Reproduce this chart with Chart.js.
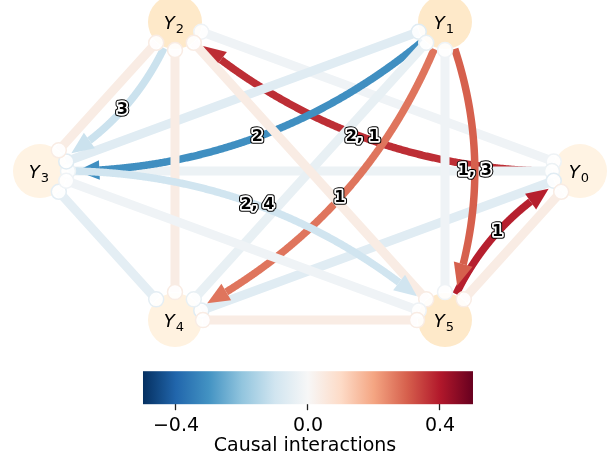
<!DOCTYPE html>
<html>
<head>
<meta charset="utf-8">
<script src="https://cdn.jsdelivr.net/npm/chart.js@4.4.1/dist/chart.umd.min.js"></script>
<style>
  html, body { margin: 0; padding: 0; background: #fff; }
</style>
</head>
<body>
<canvas id="graph" width="610" height="461"></canvas>
<script>
// Nodes (Y_0 ... Y_5) and their auto-dependency strength (node colour)
const nodeNames = ['0', '1', '2', '3', '4', '5'];
const nodeAuto = [0.03, 0.12, 0.12, 0.03, 0.04, 0.12];

// Contemporaneous links (o-o), undirected
const linkFrom = [0, 0, 0, 0, 1, 1, 1, 2, 2, 2, 3, 3, 4];
const linkTo   = [2, 3, 4, 5, 3, 4, 5, 3, 4, 5, 4, 5, 5];
const linkVal  = [-0.02, -0.03, -0.06, 0.04, -0.06, -0.04, -0.02, 0.04, 0.04, 0.04, -0.05, -0.02, 0.04];

// Lagged links (-->), with their lag labels
const lagFrom = [0, 1, 1, 1, 2, 3, 5];
const lagTo   = [2, 3, 4, 5, 3, 5, 0];
const lagVal  = [0.37, -0.31, 0.27, 0.30, -0.11, -0.10, 0.39];
const lagText = ['2, 1', '2', '1', '1, 3', '3', '2, 4', '1'];

// Colorbar
const cbMin = -0.5, cbMax = 0.5;
const cbTicks = [-0.4, 0.0, 0.4];
const cbTitle = 'Causal interactions';

const RDBU_R = ['#053061', '#2166ac', '#4393c3', '#92c5de', '#d1e5f0', '#f7f7f7',
                '#fddbc7', '#f4a582', '#d6604d', '#b2182b', '#67001f'];
const ORRD = ['#fff7ec', '#fee8c8', '#fdd49e', '#fdbb84', '#fc8d59', '#ef6548',
              '#d7301f', '#b30000', '#7f0000'];

function hexRgb(h) {
  return [parseInt(h.slice(1, 3), 16), parseInt(h.slice(3, 5), 16), parseInt(h.slice(5, 7), 16)];
}
function cmap(stops, t) {
  t = Math.min(1, Math.max(0, t));
  const p = t * (stops.length - 1);
  const i = Math.min(stops.length - 2, Math.floor(p));
  const f = p - i;
  const a = hexRgb(stops[i]), b = hexRgb(stops[i + 1]);
  const c = a.map((v, k) => Math.round(v + (b[k] - v) * f));
  return `rgb(${c[0]},${c[1]},${c[2]})`;
}
const linkColor = v => cmap(RDBU_R, (v - cbMin) / (cbMax - cbMin));
const nodeColor = v => cmap(ORRD, v);

// circular layout
const nodePos = nodeNames.map((_, i) => {
  const a = i * 2 * Math.PI / nodeNames.length;
  return { x: Math.cos(a), y: Math.sin(a) };
});

// links are drawn pair by pair (0-1, 0-2, ... 4-5), like the original
const drawOrder = [];
for (let a = 0; a < nodeNames.length; a++) {
  for (let b = a + 1; b < nodeNames.length; b++) {
    const same = (f, t) => Math.min(f, t) === a && Math.max(f, t) === b;
    linkFrom.forEach((f, k) => { if (same(f, linkTo[k])) drawOrder.push({ kind: 'link', k }); });
    lagFrom.forEach((f, k) => { if (same(f, lagTo[k])) drawOrder.push({ kind: 'lag', k }); });
  }
}

const RAD = 0.2;        // arc3 curvature
const R_START = 28, R_END = 36, R_CIRC = 28;
const HEAD_LEN = 22, HEAD_W = 19;

function fmtTick(v) {
  const s = Math.abs(v).toFixed(1);
  return v < -1e-9 ? '\u2212' + s : s;
}

const graphPlugin = {
  id: 'graph',
  beforeDatasetsDraw(chart) {
    // colorbar
    const ctx = chart.ctx, cb = chart.scales.cb;
    const x0 = cb.getPixelForValue(cbMin), x1 = cb.getPixelForValue(cbMax);
    const y1 = chart.chartArea.bottom, y0 = y1 - 33;
    const g = ctx.createLinearGradient(x0, 0, x1, 0);
    RDBU_R.forEach((c, i) => g.addColorStop(i / (RDBU_R.length - 1), c));
    ctx.save();
    ctx.fillStyle = g;
    ctx.fillRect(x0, y0, x1 - x0, y1 - y0);
    ctx.restore();
  },
  afterDatasetsDraw(chart) {
    const ctx = chart.ctx, xs = chart.scales.x, ys = chart.scales.y;
    const P = i => ({ x: xs.getPixelForValue(nodePos[i].x), y: ys.getPixelForValue(nodePos[i].y) });
    const dist = (a, b) => Math.hypot(a.x - b.x, a.y - b.y);
    const toward = (s, e, r) => {
      const d = dist(s, e);
      return { x: s.x + (e.x - s.x) / d * r, y: s.y + (e.y - s.y) / d * r };
    };
    ctx.save();
    ctx.lineCap = 'butt';

    const labels = [];
    drawOrder.forEach(item => {
      const k = item.k;
      if (item.kind === 'link') {
        const pa = P(linkFrom[k]), pb = P(linkTo[k]);
        const s = toward(pa, pb, R_CIRC), e = toward(pb, pa, R_CIRC);
        ctx.strokeStyle = linkColor(linkVal[k]);
        ctx.lineWidth = 9;
        ctx.beginPath();
        ctx.moveTo(s.x, s.y);
        ctx.lineTo(e.x, e.y);
        ctx.stroke();
        return;
      }
      // curved lagged link
      const p0 = P(lagFrom[k]), p2 = P(lagTo[k]);
      const dx = p2.x - p0.x, dy = p2.y - p0.y;
      const c = { x: (p0.x + p2.x) / 2 + RAD * dy, y: (p0.y + p2.y) / 2 - RAD * dx };
      const bez = t => ({
        x: (1 - t) * (1 - t) * p0.x + 2 * (1 - t) * t * c.x + t * t * p2.x,
        y: (1 - t) * (1 - t) * p0.y + 2 * (1 - t) * t * c.y + t * t * p2.y
      });
      const pts = [];
      for (let i = 0; i <= 400; i++) {
        const p = bez(i / 400);
        if (dist(p, p0) > R_START && dist(p, p2) > R_END) pts.push(p);
      }
      const tip = pts[pts.length - 1];
      let j = pts.length - 1;
      while (j > 0 && dist(pts[j], tip) < HEAD_LEN) j--;
      const base = pts[j];
      const col = linkColor(lagVal[k]);

      ctx.strokeStyle = col;
      ctx.lineWidth = 7.5;
      ctx.beginPath();
      ctx.moveTo(pts[0].x, pts[0].y);
      for (let i = 1; i <= j; i++) ctx.lineTo(pts[i].x, pts[i].y);
      ctx.stroke();

      const ux = (tip.x - base.x) / HEAD_LEN, uy = (tip.y - base.y) / HEAD_LEN;
      ctx.fillStyle = col;
      ctx.beginPath();
      ctx.moveTo(tip.x, tip.y);
      ctx.lineTo(base.x - uy * HEAD_W / 2, base.y + ux * HEAD_W / 2);
      ctx.lineTo(base.x + uy * HEAD_W / 2, base.y - ux * HEAD_W / 2);
      ctx.closePath();
      ctx.fill();

      labels.push({ p: bez(0.5), text: lagText[k] });
    });

    // link end markers (o-o)
    linkFrom.forEach((a, k) => {
      const pa = P(a), pb = P(linkTo[k]);
      [toward(pa, pb, R_CIRC), toward(pb, pa, R_CIRC)].forEach(m => {
        ctx.beginPath();
        ctx.arc(m.x, m.y, 7.5, 0, 2 * Math.PI);
        ctx.fillStyle = 'rgba(255,255,255,0.9)';
        ctx.fill();
        ctx.strokeStyle = linkColor(linkVal[k]);
        ctx.lineWidth = 1.5;
        ctx.stroke();
      });
    });

    // lag labels
    ctx.font = 'bold 16px "DejaVu Sans"';
    ctx.textAlign = 'center';
    ctx.textBaseline = 'middle';
    ctx.lineJoin = 'round';
    labels.forEach(l => {
      ctx.strokeStyle = '#000';
      ctx.lineWidth = 5.5;
      ctx.strokeText(l.text, l.p.x, l.p.y);
      ctx.strokeStyle = '#fff';
      ctx.lineWidth = 3.5;
      ctx.strokeText(l.text, l.p.x, l.p.y);
      ctx.fillStyle = '#000';
      ctx.fillText(l.text, l.p.x, l.p.y);
    });

    // node labels Y_i
    ctx.textAlign = 'left';
    ctx.textBaseline = 'alphabetic';
    nodeNames.forEach((n, i) => {
      const p = P(i);
      ctx.font = 'italic 18px "DejaVu Sans"';
      const wY = ctx.measureText('Y').width;
      ctx.font = '13px "DejaVu Sans"';
      const wS = ctx.measureText(n).width;
      const x = p.x - (wY + 1 + wS) / 2 - 1;
      ctx.fillStyle = '#000';
      ctx.font = 'italic 18px "DejaVu Sans"';
      ctx.fillText('Y', x, p.y + 6.5);
      ctx.font = '13px "DejaVu Sans"';
      ctx.fillText(n, x + wY + 1, p.y + 10.5);
    });
    ctx.restore();
  }
};

new Chart(document.getElementById('graph'), {
  type: 'scatter',
  data: {
    datasets: [{
      data: nodePos,
      showLine: false,
      pointRadius: 27,
      pointBackgroundColor: nodeAuto.map(nodeColor),
      pointBorderWidth: 0,
      clip: false
    }]
  },
  options: {
    responsive: false,
    animation: false,
    events: [],
    layout: { autoPadding: false, padding: { left: 0, right: 0, top: 0, bottom: 5 } },
    plugins: { legend: { display: false }, tooltip: { enabled: false } },
    scales: {
      // graph plane: 270 px per unit horizontally, 172 px per unit vertically
      x: { display: false, min: -1.1481, max: 1.1111 },
      y: { display: false, min: -1.3547, max: 0.9942 },
      // colour scale: -0.5..0.5 spans the middle of the width
      cb: {
        type: 'linear',
        axis: 'x',
        position: 'bottom',
        min: -0.9333,
        max: 0.9152,
        afterBuildTicks: s => { s.ticks = cbTicks.map(v => ({ value: v })); },
        ticks: {
          callback: v => fmtTick(v),
          color: '#000',
          font: { family: 'DejaVu Sans', size: 19 },
          padding: 4,
          maxRotation: 0,
          autoSkip: false
        },
        grid: { drawOnChartArea: false, drawTicks: true, tickLength: 6, tickWidth: 1.3, color: '#222' },
        border: { display: false },
        title: {
          display: true,
          text: cbTitle,
          color: '#000',
          font: { family: 'DejaVu Sans', size: 19, lineHeight: 1.0 },
          padding: { top: -4, bottom: 0 }
        }
      }
    }
  },
  plugins: [graphPlugin]
});
</script>
</body>
</html>
